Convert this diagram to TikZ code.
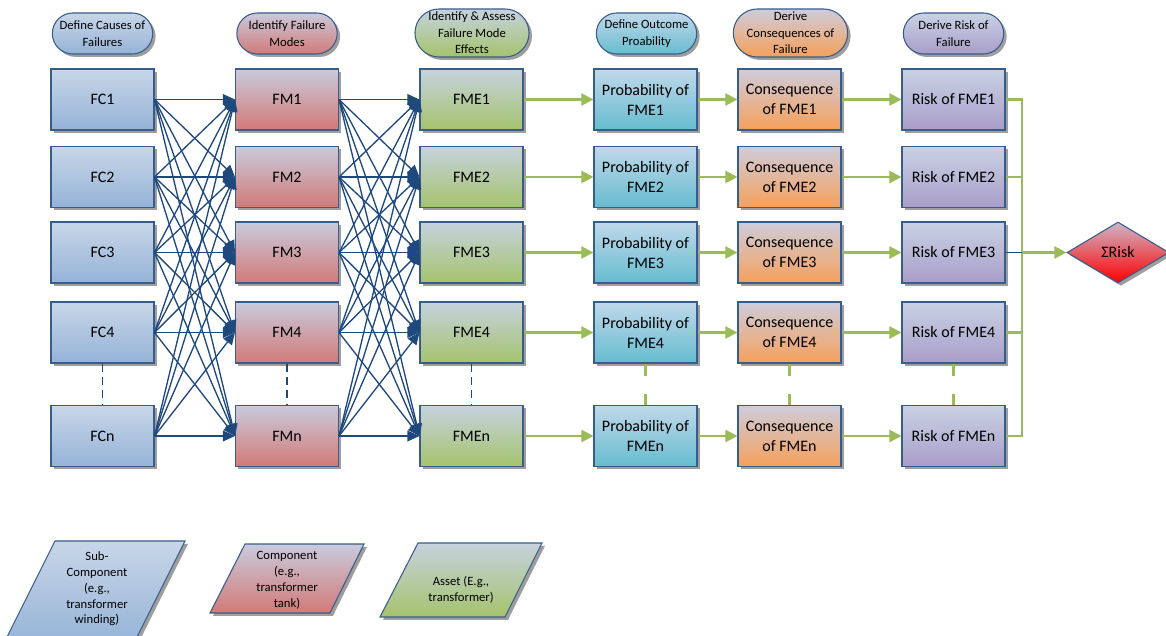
\documentclass[tikz,border=0pt]{standalone}
\usepackage{fontspec}
\setmainfont{Carlito}
\usetikzlibrary{shapes.geometric,shapes.misc,shadows,arrows.meta}
\definecolor{bline}{HTML}{1F497D}
\definecolor{bord}{HTML}{385D8A}
\definecolor{gline}{HTML}{9BBB59}
\definecolor{fcT}{HTML}{C8D6E8}
\definecolor{fcB}{HTML}{95B3D7}
\definecolor{fmT}{HTML}{C9CADC}
\definecolor{fmB}{HTML}{D27A78}
\definecolor{fmeT}{HTML}{C6D2DE}
\definecolor{fmeB}{HTML}{A5C36C}
\definecolor{prT}{HTML}{C0D8EA}
\definecolor{prB}{HTML}{66BCCF}
\definecolor{coT}{HTML}{CFCCDB}
\definecolor{coB}{HTML}{F6A05A}
\definecolor{rkT}{HTML}{C8D2E4}
\definecolor{rkB}{HTML}{A99DC9}
\definecolor{suT}{HTML}{CDB6C8}
\definecolor{suB}{HTML}{FF0000}
\tikzset{
  shad/.style={drop shadow={shadow xshift=2.2pt, shadow yshift=-2.2pt, fill=black!38, opacity=1}},
  box/.style={draw=bord, line width=0.8pt, minimum width=77.25pt, minimum height=45.75pt,
    inner sep=1pt, align=center, font=\fontsize{12}{15}\selectfont, shad},
  hdr/.style={rounded rectangle, draw=bord, line width=0.8pt, minimum width=77.25pt,
    minimum height=30.75pt, inner sep=1pt, align=center, font=\fontsize{9.5}{12.3}\selectfont, shad},
  tallhdr/.style={hdr, minimum height=36pt},
  cfc/.style={top color=fcT, bottom color=fcB},
  cfm/.style={top color=fmT, bottom color=fmB},
  cfme/.style={top color=fmeT, bottom color=fmeB},
  cpr/.style={top color=prT, bottom color=prB},
  cco/.style={top color=coT, bottom color=coB},
  crk/.style={top color=rkT, bottom color=rkB},
  barrow/.style={draw=bline, line width=1pt, -{Triangle[length=9pt,width=8pt]}},
  garrow/.style={draw=gline, line width=1.6pt, -{Triangle[length=9pt,width=9pt]}},
  gwire/.style={draw=gline, line width=1.6pt},
  bdash/.style={draw=bline, line width=1pt, dash pattern=on 6pt off 4pt},
  gdash/.style={draw=gline, line width=1.6pt, dash pattern=on 9pt off 13.5pt},
  legshape/.style={draw=bord, line width=0.8pt, shad},
  legtext/.style={align=center, font=\fontsize{9.5}{11.8}\selectfont, inner sep=0pt},
}
\begin{document}
\begin{tikzpicture}[x=0.75pt,y=-0.75pt]
\clip (0,0) rectangle (1166,635);
% headers
\node[hdr, cfc] (h1) at (102.5,33.5) {Define Causes of\\Failures};
\node[hdr, cfm] (h2) at (287,33.5) {Identify Failure\\Modes};
\node[tallhdr, cfme] (h3) at (472,33) {Identify \& Assess\\Failure Mode\\Effects};
\node[hdr, cpr] (h4) at (646.5,33.5) {Define Outcome\\Proability};
\node[tallhdr, cco] (h5) at (790.5,33) {Derive\\Consequences of\\Failure};
\node[hdr, crk] (h6) at (953.5,33.5) {Derive Risk of\\Failure};
% boxes
\foreach \i/\y in {1/99.5,2/177,3/252.5,4/332.5,n/436} {
  \node[box, cfc] (fc\i) at (102.5,\y) {FC\i};
  \node[box, cfm] (fm\i) at (287,\y) {FM\i};
  \node[box, cfme] (fme\i) at (471.5,\y) {FME\i};
  \node[box, cpr] (pr\i) at (645.5,\y) {Probability of\\FME\i};
  \node[box, cco] (co\i) at (789.5,\y) {Consequence\\of FME\i};
  \node[box, crk] (rk\i) at (953.5,\y) {Risk of FME\i};
}
% many-to-many links
\foreach \i in {1,2,3,4,n} {
  \foreach \j in {1,2,3,4,n} {
    \draw[barrow] (fc\i.east) -- (fm\j.west);
    \draw[barrow] (fm\i.east) -- (fme\j.west);
  }
}
% green chains
\foreach \i in {1,2,3,4,n} {
  \draw[garrow] (fme\i) -- (pr\i);
  \draw[garrow] (pr\i) -- (co\i);
  \draw[garrow] (co\i) -- (rk\i);
}
% dashed continuations
\draw[bdash] (fc4) -- (fcn);
\draw[bdash] (fm4) -- (fmn);
\draw[bdash] (fme4) -- (fmen);
\draw[gdash] (pr4) -- (prn);
\draw[gdash] (co4) -- (con);
\draw[gdash] (rk4) -- (rkn);
% sum
\node[diamond, draw=bord, line width=0.8pt, top color=suT, bottom color=suB, minimum width=76.5pt,
  minimum height=45.75pt, aspect=1.67, inner sep=0pt, font=\fontsize{12}{15}\selectfont, shad] (sum) at (1118,252.5) {ΣRisk};
\coordinate (bt) at (1022,99.5);
\coordinate (bb) at (1022,436);
\coordinate (bm) at (1022,252.5);
\draw[gwire] (rk1.east) -- (bt) -- (bb) -- (rkn.east);
\draw[gwire] (rk2.east) -- (rk2.east -| bt);
\draw[gwire] (rk4.east) -- (rk4.east -| bt);
\draw[draw=bline, line width=0.8pt] (rk3.east) -- (bm);
\draw[garrow] (bm) -- (sum.west);
% legend
\path[legshape, top color=fcT, bottom color=fcB] (55,541) -- (185,541) -- (133,645) -- (3,645) -- cycle;
\node[legtext] (l1) at (97,589) {Sub-\\Component\\(e.g.,\\transformer\\winding)};
\path[legshape, top color=fmT, bottom color=fmB] (245,544) -- (364,544) -- (330,613) -- (210,613) -- cycle;
\node[legtext, font=\fontsize{9.5}{12}\selectfont] (l2) at (287,580) {Component\\(e.g.,\\transformer\\tank)};
\path[legshape, top color=fmeT, bottom color=fmeB] (418,543) -- (542,543) -- (505,617) -- (380,617) -- cycle;
\node[legtext] (l3) at (461,589.5) {Asset (E.g.,\\transformer)};
\end{tikzpicture}
\end{document}
